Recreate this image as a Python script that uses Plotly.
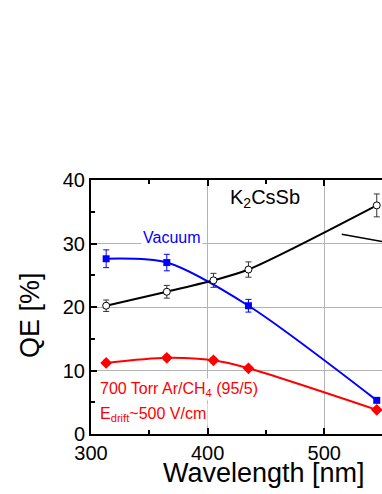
import plotly.graph_objects as go

# Data
wl_black = [313, 365, 405, 435, 545]
qe_black = [20.2, 22.4, 24.2, 25.9, 36.0]
err_black = [0.9, 1.0, 1.1, 1.2, 1.8]

wl_blue = [313, 365, 435, 545]
qe_blue = [27.6, 27.0, 20.2, 5.3]
err_blue = [1.4, 1.3, 1.0, 0.3]

wl_red = [313, 365, 405, 435, 545]
qe_red = [11.2, 12.0, 11.6, 10.35, 3.8]
err_red = [0.4, 0.4, 0.4, 0.3, 0.2]

# leader line (annotation pointer partially visible at right edge)
pointer_x = [515, 549.5]
pointer_y = [31.45, 30.3]

FONT = "Arial, Liberation Sans, sans-serif"

fig = go.Figure()

fig.add_trace(go.Scatter(
    x=wl_red, y=qe_red, mode="lines+markers",
    line=dict(color="#ff0000", width=2, shape="spline", smoothing=0.8),
    marker=dict(symbol="diamond", size=9, color="#ff0000"),
    error_y=dict(type="data", array=err_red, color="#ff0000", thickness=1, width=3),
    showlegend=False, hoverinfo="skip"))

fig.add_trace(go.Scatter(
    x=wl_blue, y=qe_blue, mode="lines+markers",
    line=dict(color="#0000ff", width=2, shape="spline", smoothing=0.8),
    marker=dict(symbol="square", size=7, color="#0000ff"),
    error_y=dict(type="data", array=err_blue, color="#0000ff", thickness=1, width=3),
    showlegend=False, hoverinfo="skip"))

fig.add_trace(go.Scatter(
    x=wl_black, y=qe_black, mode="lines+markers",
    line=dict(color="#000000", width=2, shape="spline", smoothing=0.8),
    marker=dict(symbol="circle", size=7, color="white", line=dict(color="black", width=1)),
    error_y=dict(type="data", array=err_black, color="#333333", thickness=1, width=3),
    showlegend=False, hoverinfo="skip"))

# invisible trace to realise the top axis
fig.add_trace(go.Scatter(x=[wl_black[0]], y=[qe_black[0]], xaxis="x2", mode="markers",
                         marker=dict(opacity=0), showlegend=False, hoverinfo="skip"))

fig.add_shape(type="line", xref="x", yref="y",
              x0=pointer_x[0], y0=pointer_y[0], x1=pointer_x[1], y1=pointer_y[1],
              line=dict(color="black", width=1.5))

axis_common = dict(showline=True, linecolor="black", linewidth=2, ticks="inside",
                   tickcolor="black", ticklen=6, tickwidth=1.5)

fig.update_layout(
    width=382, height=494,
    margin=dict(l=91, r=0, t=180, b=60),
    paper_bgcolor="white", plot_bgcolor="white",
    font=dict(family=FONT, color="black"),
    xaxis=dict(range=[300, 549.5], dtick=100, tick0=300, showgrid=True,
               gridcolor="#b4b4b4", gridwidth=1, zeroline=False,
               tickfont=dict(size=20, family=FONT, color="black"),
               minor=dict(dtick=50, ticks="inside", ticklen=4, tickcolor="black", showgrid=False),
               **axis_common),
    xaxis2=dict(overlaying="x", matches="x", side="top", anchor="y", showgrid=False,
                showticklabels=False, dtick=100, tick0=300, zeroline=False,
                minor=dict(dtick=50, ticks="inside", ticklen=4, tickcolor="black", showgrid=False),
                **axis_common),
    yaxis=dict(range=[0, 40], dtick=10, showgrid=True, gridcolor="#b4b4b4", gridwidth=1,
               zeroline=False, tickfont=dict(size=20, family=FONT, color="black"),
               minor=dict(dtick=5, ticks="inside", ticklen=4, tickcolor="black", showgrid=False),
               **axis_common),
)

annotations = [
    dict(text="QE [%]", x=30, y=315, textangle=-90, xanchor="center", yanchor="middle",
         font=dict(size=27, family=FONT, color="black"), showarrow=False),
    dict(text="Wavelength [nm]", x=264, y=473, xanchor="center", yanchor="middle",
         font=dict(size=27, family=FONT, color="black"), showarrow=False),
    dict(text="K<sub>2</sub>CsSb", x=265, y=198, xanchor="center", yanchor="middle",
         font=dict(size=20, family=FONT, color="black"), showarrow=False),
    dict(text="Vacuum", x=172, y=237, xanchor="center", yanchor="middle",
         font=dict(size=16, family=FONT, color="#0000ff"), showarrow=False, bgcolor="white"),
    dict(text="700 Torr Ar/CH<sub>4</sub> (95/5)", x=98, y=389, xanchor="left", yanchor="middle",
         font=dict(size=16, family=FONT, color="#ff0000"), showarrow=False, bgcolor="white"),
    dict(text="E<sub>drift</sub>~500 V/cm", x=98, y=414, xanchor="left", yanchor="middle",
         font=dict(size=16, family=FONT, color="#ff0000"), showarrow=False, bgcolor="white"),
]
# convert pixel positions to paper coordinates
L, R, T, B, W, H = 91, 0, 180, 60, 382, 494
pw, ph = W - L - R, H - T - B
for a in annotations:
    a["xref"] = "paper"; a["yref"] = "paper"
    a["x"] = (a["x"] - L) / pw
    a["y"] = (H - B - a["y"]) / ph
    fig.add_annotation(**a)

fig.write_html("out.html", config={"displayModeBar": False},
               post_script="document.body.style.margin='0';document.body.style.overflow='hidden';")
